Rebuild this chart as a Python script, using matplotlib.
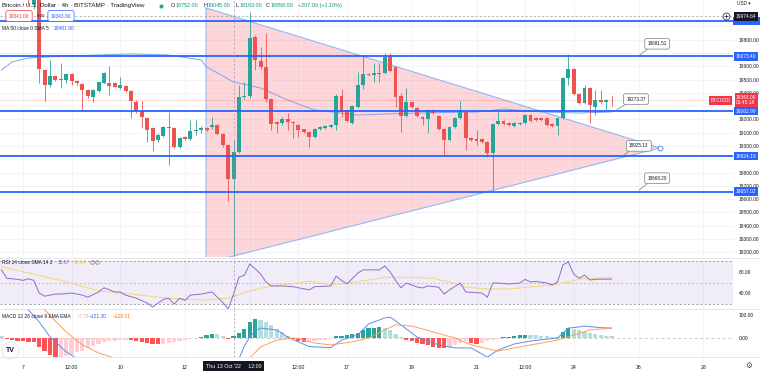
import matplotlib.pyplot as plt
import matplotlib.transforms as mtransforms
from matplotlib.lines import Line2D
from matplotlib.patches import Polygon, Rectangle
import numpy as np

plt.rcParams['font.family'] = ['Liberation Sans', 'DejaVu Sans']

# ---------------- data (4h candles, k = candle index, k=0 is Thu 13 Oct '22 12:00) ----------------
first_k = -43
opens = [20250, 20300, 20240, 20180, 20230, 20150, 20070, 20140, 19572, 19459, 19526, 19504, 19496, 19541, 19489,
         19466, 19421, 19368, 19414, 19474, 19470, 19474, 19436, 19451, 19414, 19331, 19263, 19211, 19135, 19045,
         19075, 19143, 19135, 18992, 19068, 19053, 19113, 19120, 19135, 19143, 19158, 19090, 19008, 18752, 18958,
         19368, 19376, 19820, 19639, 19594, 19353, 19180, 19173, 19203, 19180, 19158, 19128, 19105, 19068, 19128,
         19135, 19143, 19158, 19376, 19271, 19173, 19293, 19459, 19541, 19534, 19545, 19549, 19669, 19594, 19376,
         19226, 19331, 19286, 19218, 19203, 19271, 19226, 19128, 19045, 19143, 19211, 19256, 19060, 19053, 19053,
         19030, 18947, 19165, 19188, 19173, 19150, 19165, 19173, 19233, 19211, 19211, 19211, 19165, 19150, 19211,
         19511, 19579, 19391, 19323, 19436, 19293, 19346, 19331, 19346]
highs = [20380, 20350, 20290, 20260, 20250, 20200, 20180, 20160, 19579, 19647, 19530, 19624, 19550, 19548, 19495,
         19470, 19430, 19425, 19490, 19560, 19602, 19480, 19520, 19460, 19420, 19345, 19338, 19220, 19145, 19100,
         19150, 19256, 19140, 19065, 19075, 19196, 19196, 19150, 19140, 19218, 19165, 19095, 19015, 19045, 19459,
         19481, 20008, 19835, 19745, 19850, 19360, 19190, 19215, 19250, 19185, 19165, 19130, 19110, 19135, 19150,
         19160, 19165, 19390, 19429, 19280, 19310, 19556, 19684, 19550, 19624, 19624, 19700, 19700, 19600, 19400,
         19436, 19340, 19290, 19225, 19280, 19280, 19235, 19135, 19150, 19220, 19338, 19265, 19065, 19120, 19060,
         19035, 19175, 19256, 19195, 19180, 19180, 19180, 19240, 19240, 19215, 19215, 19215, 19170, 19220, 19520,
         19692, 19585, 19395, 19459, 19440, 19421, 19421, 19355, 19376]
lows = [20180, 20200, 20150, 20120, 20110, 20060, 20030, 19474, 19338, 19440, 19490, 19436, 19470, 19459, 19460,
        19265, 19360, 19330, 19405, 19465, 19384, 19440, 19430, 19405, 19210, 19250, 19135, 19030, 18962, 19030,
        19070, 18857, 18985, 18985, 19045, 19045, 19083, 19100, 19110, 19130, 19080, 18990, 18586, 18183, 18950,
        19350, 19360, 19572, 19580, 19331, 19120, 19098, 19160, 19120, 19060, 19070, 19095, 18992, 19060, 19120,
        19130, 19135, 19120, 19218, 19180, 19165, 19285, 19429, 19525, 19481, 19481, 19540, 19555, 19293, 19105,
        19220, 19285, 19220, 19158, 19098, 19240, 19120, 18925, 19040, 19135, 19205, 18970, 19040, 19008, 19025,
        18917, 18668, 19160, 19160, 19150, 19145, 19160, 19168, 19180, 19190, 19190, 19150, 19145, 19083, 19205,
        19459, 19380, 19315, 19315, 19173, 19233, 19325, 19273, 19301]
closes = [20300, 20240, 20180, 20230, 20150, 20110, 20140, 19579, 19459, 19526, 19496, 19496, 19541, 19489, 19474,
          19421, 19376, 19421, 19481, 19549, 19451, 19444, 19459, 19414, 19338, 19263, 19218, 19120, 19038, 19083,
          19143, 19135, 18992, 19060, 19053, 19113, 19120, 19135, 19120, 19158, 19090, 19008, 18752, 18958, 19368,
          19376, 19812, 19647, 19594, 19353, 19165, 19165, 19203, 19180, 19173, 19120, 19105, 19068, 19128, 19143,
          19150, 19158, 19376, 19256, 19188, 19301, 19459, 19541, 19534, 19549, 19552, 19669, 19564, 19368, 19226,
          19331, 19293, 19226, 19203, 19271, 19248, 19128, 19045, 19143, 19211, 19271, 19060, 19045, 19038, 19030,
          18947, 19165, 19188, 19165, 19158, 19173, 19173, 19233, 19188, 19196, 19196, 19158, 19150, 19211, 19511,
          19579, 19391, 19323, 19436, 19308, 19346, 19331, 19346, 19343]

ma_k = [-43, -41, -38, -31, -19, -12, -6, -5, 0, 5, 10, 15, 23, 34, 45, 50, 57, 64, 70]
ma_v = [19571, 19632, 19662, 19677, 19692, 19684, 19647, 19594, 19481.9, 19436, 19346, 19271, 19233, 19248,
        19256, 19278, 19256, 19248, 19256]

levels = [19942.0, 19673.40, 19262.99, 18924.18, 18657.02]
level_tags = ['', '19673.40', '19262.99', '18924.18', '18657.02']

tri_k = [-5.1, -5.1, 79.0]
tri_p = [20038, 18120, 18985]

callout_k = [75.1, 71.0, 72.1, 75.1]
callout_p = [19681.51, 19273.37, 18925.13, 18668.20]

cross_k = 0
cross_p = 19974.64
last_price = 19343.00

rsi_k = [-43, -42, -40, -39, -38, -37, -36, -35, -33, -32, -30, -28, -27, -25, -24, -22, -21, -20, -18, -16,
         -15, -13, -12, -11, -10, -9, -8, -6, -4, -3, -2, -1, 0, 1, 2, 3, 4, 5, 6, 7, 9, 11, 12, 14, 15, 18,
         19, 20, 21, 23, 24, 27, 28, 29, 30, 31, 32, 34, 35, 36, 38, 39, 40, 42, 43, 46, 47, 48, 49, 51, 53,
         54, 55, 56, 58, 59, 60, 61, 62, 63, 64, 65, 66, 67, 70]
rsi_v = [62, 54, 53, 52, 53.5, 52, 40, 37, 39, 39, 40, 38, 36, 41, 45, 41, 41, 38, 35, 30.5,
         26.7, 34, 35, 29.5, 35, 33, 38, 39, 41, 36, 31, 24.8, 38.9, 55, 57, 67.6, 63, 58, 50.5, 46.7, 46.7,
         46, 45, 43, 46, 46.7, 56, 52, 48.6, 59, 62, 62, 65.7, 60, 52, 45, 49.5, 45.7, 44.8, 46.7, 45.5,
         39, 43, 49.5, 41, 40, 36, 49.5, 49.5, 48.6, 49.5, 53, 50.5, 51, 49.5, 47.6, 50.5, 66.7, 69.5, 58,
         54, 57, 52.4, 53, 53.3]
rsi_sma_k = [-43, -37, -31, -25, -19, -12, -6, -1, 3, 7, 12, 14, 17, 20, 25, 28, 33, 37, 40, 43, 47, 51, 55,
             59, 62, 64, 68, 70]
rsi_sma_v = [64.8, 58, 50.5, 42, 39, 35, 33.3, 35, 42, 46.7, 49.5, 51.4, 48.6, 48.6, 52.4, 55, 55, 54, 50.5,
             45.7, 43.8, 43.8, 45.7, 47.6, 50.5, 53.3, 54.3, 54.3]

macd_k = [-43, -41, -38, -36, -34, -31, -29, -25, -20, -15, -10, -5, 0, 1, 2, 3, 4, 5, 8, 10, 12, 14, 18, 20,
          23, 25, 28, 29, 31, 34, 38, 41, 44, 47, 49, 52, 55, 60, 62, 64, 65, 68, 70]
macd_v = [170, 150, 122, 70, 5, -60, -90, -125, -150, -165, -160, -140, -121.3, -90, -35, 4, 30, 43, 35, 4,
          -17, -37, -42, -9, 13, 61, 87, 91, 57, 4, -30, -43, -43, -83, -52, -26, -13, 0, 43, 48, 52, 45, 43]
signal_k = [-43, -38, -35, -31, -28, -25, -22, -15, -8, -3, 0, 3, 5, 8, 11, 12, 15, 18, 22, 25, 28, 30, 33,
            37, 41, 44, 49, 52, 57, 60, 63, 66, 70]
signal_v = [190, 150, 122, 26, -30, -65, -87, -130, -140, -132, -128.5, -87, -39, -9, 0, -4, -22, -30, -17,
            0, 35, 57, 52, 26, 0, -30, -57, -43, -22, -9, 13, 35, 43]
hist_v = [8, -6, -10, -13, -15, -16, -18, -40, -55, -75, -88, -85, -80, -72, -63, -55, -45, -35, -25, -17,
          -14, -12, -10, -9, -10, -12, -16, -20, -25, -28, -26, -22, -17, -12, -8, -3, 2, 6, 12, 18,
          16, 10, -4, 7, 20, 40, 70, 82, 78, 70, 55, 40, 25, 10, -3, -12, -17, -15, -12, -10,
          -8, -5, 8, 10, 12, 17, 22, 35, 43, 45, 46, 43, 35, 18, 5, -8, -12, -20, -25, -32,
          -38, -43, -45, -40, -30, -20, -14, -20, -27, -22, -15, -9, -3, 3, 6, 9, 12, 15, 14, 12,
          10, 8, 6, 4, 26, 43, 39, 33, 28, 22, 18, 14, 10, 7]

tick_days = [7, 8.5, 10, 12, 15.5, 17, 19, 21, 22.5, 24, 26, 28]
tick_labels = ['7', '12:00', '10', '12', '12:00', '17', '19', '21', '12:00', '24', '26', '28']

# ---------------- layout ----------------
W, H = 760, 371
PLOT_R = 733
XMIN, XMAX = -43.26, 92.5
UP, DOWN = '#26A69A', '#EF5350'
TXT = '#131722'
GRID = '#F0F3FA'
LEG = 3.5

fig = plt.figure(figsize=(W / 100, H / 100), dpi=100)


def fx(x):
    return x / W


def fy(y):
    return 1 - y / H


def pane(top, bottom):
    a = fig.add_axes([0, 1 - bottom / H, PLOT_R / W, (bottom - top) / H])
    for s in a.spines.values():
        s.set_visible(False)
    a.set_xlim(XMIN, XMAX)
    a.yaxis.tick_right()
    a.tick_params(axis='y', length=0, labelsize=3.5, pad=4, labelcolor=TXT)
    a.tick_params(axis='x', length=0, labelbottom=False)
    return a


ax = pane(0, 257)
ax_rsi = pane(258, 309)
ax_macd = pane(309, 357)

tick_k = [(d - 13.5) * 6 for d in tick_days]
for a in (ax, ax_rsi, ax_macd):
    for tk in tick_k + [3]:
        a.axvline(tk, color=GRID, lw=0.6, zorder=0)
    a.axvline(cross_k, color='#9598A1', lw=0.5, ls=(0, (3, 3)), zorder=6)

# ---------------- main pane ----------------
ax.set_ylim(18165, 20098)
price_ticks = np.arange(18200, 20000, 100)
hidden = {19900, 19700, 19300, 18900}   # covered by the coloured price tags
ax.set_yticks(price_ticks)
ax.set_yticklabels(['' if p in hidden else f"{p:.2f}" for p in price_ticks])
for p in price_ticks:
    ax.axhline(p, color=GRID, lw=0.6, zorder=0)

tri = Polygon(list(zip(tri_k, tri_p)), closed=True, fc='#F23645', alpha=0.2, ec='none', zorder=1)
ax.add_patch(tri)
ax.plot(tri_k + [tri_k[0]], tri_p + [tri_p[0]], color='#90B8F8', lw=0.8, zorder=2)
ax.plot([tri_k[2]], [tri_p[2]], marker='o', ms=3.5, mfc='white', mec='#5B8DEF', mew=0.7, zorder=9)

ax.plot(ma_k, ma_v, color='#7FA3F3', lw=0.7, zorder=2)

ks = np.arange(first_k, first_k + len(closes))
o, h, l, c = (np.array(v, dtype=float) for v in (opens, highs, lows, closes))
col = np.where(c >= o, UP, DOWN)
ax.vlines(ks, l, h, colors=col, lw=0.6, zorder=3)
ax.bar(ks, np.maximum(np.abs(c - o), 6), bottom=np.minimum(o, c), width=0.72, color=col, lw=0, zorder=4)

for lv in levels:
    ax.axhline(lv, color='#2962FF', lw=1.3, zorder=5)

ax.axhline(last_price, color='#F23645', lw=0.5, ls=(0, (1, 2)), alpha=0.7, zorder=2)
ax.axhline(cross_p, color='#9598A1', lw=0.5, ls=(0, (3, 3)), zorder=6)

callout_off = [(13, 8.3), (13.7, 7.6), (11.5, 7.2), (13, 8.6)]
for kk, pp, off in zip(callout_k, callout_p, callout_off):
    ax.annotate(f"{pp:.2f}", xy=(kk, pp), xytext=off, textcoords='offset points', fontsize=3.3,
                ha='center', va='center', color=TXT, zorder=9,
                bbox=dict(boxstyle='round,pad=0.6,rounding_size=0.4', fc='white', ec='#787B86', lw=0.5),
                arrowprops=dict(arrowstyle='-', color='#787B86', lw=0.5, shrinkA=0, shrinkB=0,
                                relpos=(0.2, 0)))

ytrans = ax.get_yaxis_transform()
tag_kw = dict(xycoords=ytrans, textcoords='offset points', fontsize=3.5, color='white', va='center',
              annotation_clip=False, zorder=10)
# blue strip of the top level, hidden under the crosshair tag
ax.add_patch(Rectangle((1.0, levels[0] - 30), 27 / PLOT_R, 60, transform=ytrans, fc='#2962FF', ec='none',
                       clip_on=False, zorder=9))
for lv, tag in zip(levels[1:], level_tags[1:]):
    ax.annotate(tag, xy=(1.0, lv), xytext=(2.2, 0), ha='left',
                bbox=dict(boxstyle='square,pad=0.35', fc='#2962FF', ec='none'), **tag_kw)
ax.annotate(f"{cross_p:.2f}", xy=(1.0, cross_p), xytext=(2.2, 0), ha='left',
            bbox=dict(boxstyle='square,pad=0.35', fc=TXT, ec='none'), **tag_kw)
ax.annotate(f"{last_price:.2f}\n01:45:18", xy=(1.0, last_price), xytext=(2.2, 0.3), ha='left',
            linespacing=1.1, bbox=dict(boxstyle='square,pad=0.3', fc='#F23645', ec='none'), **tag_kw)
ax.annotate("BTCUSD", xy=(1.0, last_price), xytext=(-2, 0), ha='right',
            bbox=dict(boxstyle='square,pad=0.35', fc='#F23645', ec='none'), **tag_kw)
# crosshair "+" handle
fig.add_artist(Line2D([fx(726)], [fy(16)], marker='o', ms=5, mfc='white', mec=TXT, mew=0.5,
                      transform=fig.transFigure))
fig.add_artist(Line2D([fx(726)], [fy(16)], marker='+', ms=3, mec=TXT, mew=0.5, transform=fig.transFigure))
fig.text(fx(737), fy(3.5), 'USD ▾', fontsize=3.4, ha='left', va='center', color=TXT)

# header legend
fig.text(fx(2), fy(5.5), 'Bitcoin / U.S. Dollar · 4h · BITSTAMP · TradingView', fontsize=4.5,
         color=TXT, va='center')
fig.add_artist(Line2D([fx(161)], [fy(5.5)], marker='o', ms=3, mfc='#089981', mec='#B2DFDB', mew=0.8,
                      transform=fig.transFigure))
ohlc_items = [('O', '18752.00', 171), ('H', '19045.00', 203), ('L', '18183.00', 235),
              ('C', '18958.00', 266)]
for lab, val, xx in ohlc_items:
    fig.text(fx(xx), fy(5.5), lab, fontsize=3.9, color=TXT, va='center')
    fig.text(fx(xx + 5), fy(5.5), val, fontsize=3.9, color='#089981', va='center')
fig.text(fx(298), fy(5.5), '+207.00 (+1.10%)', fontsize=3.9, color='#089981', va='center')

fig.text(fx(19), fy(16), '19341.00', fontsize=LEG, color='#F23645', ha='center', va='center',
         bbox=dict(boxstyle='round,pad=0.6,rounding_size=0.4', fc='white', ec='#F23645', lw=0.5))
fig.text(fx(41), fy(16), '3.00', fontsize=3.2, color=TXT, ha='center', va='center')
fig.text(fx(61), fy(16), '19343.00', fontsize=LEG, color='#2962FF', ha='center', va='center',
         bbox=dict(boxstyle='round,pad=0.6,rounding_size=0.4', fc='white', ec='#2962FF', lw=0.5))
fig.text(fx(2), fy(28), 'MA 50 close 0 SMA 5', fontsize=LEG, color=TXT, va='center')
fig.text(fx(54), fy(28), '19481.90', fontsize=LEG, color='#2962FF', va='center')

# ---------------- RSI pane ----------------
ax_rsi.set_ylim(24.8, 73.3)
ax_rsi.set_yticks([40, 60])
ax_rsi.set_yticklabels(['40.00', '60.00'])
ax_rsi.axhspan(30, 70, color='#7E57C2', alpha=0.1, lw=0, zorder=0)
for lvl, al in ((70, 1), (50, 0.6), (30, 1)):
    ax_rsi.axhline(lvl, color='#787B86', lw=0.5, ls=(0, (3, 3)), alpha=al, zorder=1)
ax_rsi.plot(rsi_sma_k, rsi_sma_v, color='#F5D76E', lw=0.7, zorder=3)
ax_rsi.plot(rsi_k, rsi_v, color='#7E57C2', lw=0.7, alpha=0.85, zorder=4)
fig.text(fx(2), fy(262), 'RSI 14 close SMA 14 2', fontsize=LEG, color=TXT, va='center')
fig.text(fx(58), fy(262), '38.87', fontsize=LEG, color='#7E57C2', va='center')
fig.text(fx(74), fy(262), '28.54', fontsize=LEG, color='#E8C547', va='center')
for xx in (92, 97):
    fig.add_artist(Line2D([fx(xx)], [fy(262)], marker='o', ms=2.6, mfc='none', mec='#787B86', mew=0.5,
                          transform=fig.transFigure))

# ---------------- MACD pane ----------------
ax_macd.set_ylim(-82.6, 126)
ax_macd.set_yticks([0, 100])
ax_macd.set_yticklabels(['0.00', '100.00'])
ax_macd.axhline(0, color='#B2B5BE', lw=0.5, ls=(0, (4, 4)), zorder=1)
hist = np.array(hist_v, dtype=float)
prev = np.r_[hist[0], hist[:-1]]
hcol = np.where(hist >= 0, np.where(hist > prev, '#26A69A', '#B2DFDB'),
                np.where(hist < prev, '#FF5252', '#FFCDD2'))
ax_macd.bar(np.arange(first_k, first_k + len(hist)), hist, width=0.78, color=hcol, lw=0, zorder=2)
ax_macd.plot(macd_k, macd_v, color='#5B8DEF', lw=0.7, zorder=3)
ax_macd.plot(signal_k, signal_v, color='#FF9E58', lw=0.7, zorder=3)
fig.text(fx(2), fy(316), 'MACD 12 26 close 9 EMA EMA', fontsize=LEG, color=TXT, va='center')
fig.text(fx(77), fy(316), '−7.79', fontsize=LEG, color='#F7A1A8', va='center')
fig.text(fx(89), fy(316), '−121.30', fontsize=LEG, color='#2962FF', va='center')
fig.text(fx(113), fy(316), '−128.51', fontsize=LEG, color='#FF6D00', va='center')

# x axis labels
ax_macd.set_xticks(tick_k)
ax_macd.set_xticklabels(tick_labels)
ax_macd.tick_params(axis='x', labelbottom=True, labelsize=3.8, pad=6, labelcolor=TXT)
fig.text(fx(233.6), fy(366), "Thu 13 Oct '22     12:00", fontsize=3.8, color='white', ha='center',
         va='center', bbox=dict(boxstyle='square,pad=0.5', fc=TXT, ec='none'))
fig.text(fx(749), fy(366), '⚙', fontsize=5.5, color='#4A4E59', ha='center', va='center')

# TradingView logo
fig.add_artist(Line2D([fx(10)], [fy(350)], marker='o', ms=12, mfc='white', mec='#E0E3EB', mew=0.6,
                      transform=fig.transFigure))
fig.text(fx(10), fy(350), 'TV', fontsize=5, fontweight='bold', color=TXT, ha='center', va='center')

# pane separators
for yy in (257.5, 309, 357):
    fig.add_artist(Line2D([0, 1], [fy(yy), fy(yy)], color='#E0E3EB', lw=0.6, transform=fig.transFigure))

fig.savefig('out.png', dpi=100, facecolor='white')
